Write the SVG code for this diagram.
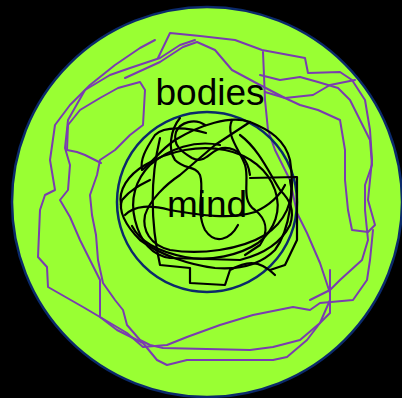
<svg xmlns="http://www.w3.org/2000/svg" width="402" height="398" viewBox="0 0 402 398">
<style>
.p{fill:none;stroke:#7a3cb0;stroke-width:2;stroke-linejoin:round;stroke-linecap:round}
.k{fill:none;stroke:#000;stroke-width:2.2;stroke-linejoin:round;stroke-linecap:round}
.t{font-family:"Liberation Sans",Arial,sans-serif;font-size:37px;fill:#000;text-anchor:middle}
</style>
<rect width="402" height="398" fill="#000"/>
<g id="bodies">
<circle cx="207" cy="202" r="195" fill="#99ff33" stroke="#0b2a6b" stroke-width="2.5"/>
<path class="p" d="M158 58 L170 33 L200 36 L235 40 L262 50 L305 58 L308 73 L340 72 L352 80 L365 100 L370 130 L372 160 L368 200 L375 225 L368 232 L352 230 L348 210 L345 180 L345 150 L340 120 L318 110 L300 105 L285 98 L265 92"/>
<path class="p" d="M125 78 L160 62 L183 47 L197 42 L215 50 L232 70 L260 85 L285 98 L313 95 L330 85 L355 80"/>
<path class="p" d="M155 40 L140 48 L115 65 L90 85 L70 105 L55 125 L50 160 L55 190 L45 195 L40 210 L38 257 L47 267 L48 287 L83 307 L100 317 L127 333 L143 347 L167 345 L187 337 L220 325 L253 315 L293 307 L310 310 L320 303 L353 300 L367 280 L370 260 L373 230"/>
<path class="p" d="M195 40 L180 45 L160 58 L130 68 L110 75 L85 90 L68 120 L65 148 L70 165 L68 190 L60 200 L70 217 L80 240 L90 260 L100 280 L100 317 L117 330 L143 343 L157 360 L167 365 L187 360 L273 360 L287 357 L307 340 L320 323 L330 313 L330 293 L320 263 L307 233 L297 213 L290 180 L275 150 L268 130 L265 100 L263 52"/>
<path class="p" d="M101 163 L85 155 L77 152 L67 150 L68 125 L80 110 L100 98 L118 88 L140 82 L145 90 L143 125 L130 135 L115 150 L100 160 L97 175 L90 195 L92 215 L96 235 L98 260 L103 283 L115 300 L123 310 L127 325 L140 340 L150 345 L163 348 L250 350 L273 347 L300 340 L320 323 L330 300 L330 270"/>
<path class="p" d="M260 75 L280 80 L300 77 L318 82 L338 88 L350 100 L360 120 L370 140 L372 165 L365 185 L365 210 L368 240 L362 260 L340 280 L330 290 L310 300"/>
<text class="t" x="210" y="105">bodies</text>
</g>
<g id="mind">
<circle cx="207" cy="202" r="90" fill="none" stroke="#0b2a6b" stroke-width="2.5"/>
<path class="k" d="M206 133 C190 128 165 125 155 135 C145 150 140 160 142 170 C150 165 160 150 175 140 C200 125 230 115 250 122 C270 130 285 140 290 160 C295 190 290 230 275 250 C260 265 240 270 215 268 C190 265 160 255 140 240 C125 225 118 210 122 200 C130 190 140 185 150 180"/>
<path class="k" d="M250 122 L215 145 L180 175 C165 185 150 200 145 215 C142 230 150 245 170 250 C200 255 240 250 265 235 C285 222 295 200 290 180"/>
<path class="k" d="M160 138 C150 180 150 220 160 265 L190 268 L190 283 L225 285 L230 270 C245 262 258 258 275 275"/>
<path class="k" d="M240 135 C260 150 270 175 280 190 C290 200 295 210 290 225 C280 245 260 255 240 260 L170 258 C150 255 140 240 135 220 C130 200 135 180 150 165 C170 148 195 140 220 145"/>
<path class="k" d="M180 118 C170 130 168 150 175 160 C185 170 195 165 200 175 C205 190 195 210 205 230 C215 245 230 240 238 225"/>
<path class="k" d="M250 178 L297 177 L297 240 L285 265 L270 270"/>
<path class="k" d="M232 120 C225 135 240 150 245 165 C250 180 240 200 255 210 C265 218 270 230 260 245 L245 255"/>
<path class="k" d="M125 215 C135 205 150 205 170 210 C200 215 230 220 255 212 C270 205 280 195 285 185"/>
<path class="k" d="M121 205 C118 190 128 175 145 165 C170 150 200 145 225 150 C250 155 268 170 275 190 C282 210 275 230 258 243 C240 255 210 262 185 257 C160 252 140 242 132 226"/>
<path class="k" d="M205 125 C195 118 180 122 176 132 C172 145 182 152 192 158 C205 165 210 150 222 148 C238 146 248 160 250 175"/>
<text class="t" x="207" y="217">mind</text>
</g>
</svg>
